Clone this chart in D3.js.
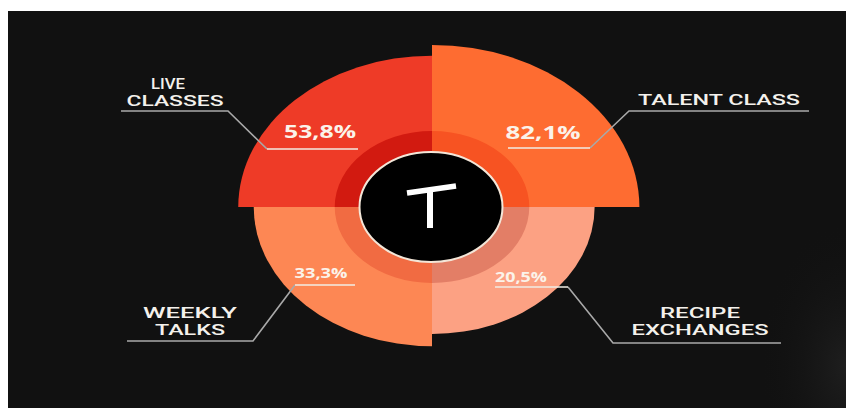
<!DOCTYPE html>
<html><head><meta charset="utf-8">
<script src="https://cdn.jsdelivr.net/npm/d3@7/dist/d3.min.js"></script>
<style>html,body{margin:0;padding:0;background:#fff;}svg{display:block;}</style>
</head><body>
<svg id="chart" width="846" height="408"></svg>
<script>
// ---- data ----
const categories = ["TALENT CLASS", "RECIPE EXCHANGES", "WEEKLY TALKS", "LIVE CLASSES"];
const values = [82.1, 20.5, 33.3, 53.8];
const valueLabels = ["82,1%", "20,5%", "33,3%", "53,8%"];
const labelLines = [["TALENT CLASS"], ["RECIPE", "EXCHANGES"], ["WEEKLY", "TALKS"], ["LIVE", "CLASSES"]];
const colors = ["#fe6c31", "#fca183", "#fd8754", "#ee3b27"];
const ringColors = ["#f75322", "#e37e66", "#f16b42", "#d21a10"];

// ---- layout ----
const W = 846, H = 408;
const cx = 432, cy = 207, sx = 1.28;
const svg = d3.select("#chart");

const defs = svg.append("defs");
const g1 = defs.append("radialGradient").attr("id", "glow")
  .attr("cx", 1.0).attr("cy", 0.8).attr("r", 0.7);
g1.append("stop").attr("offset", 0).attr("stop-color", "#2c2c2c").attr("stop-opacity", 0.5);
g1.append("stop").attr("offset", 1).attr("stop-color", "#111").attr("stop-opacity", 0);

svg.append("rect").attr("x", 8).attr("y", 11).attr("width", W - 8).attr("height", H - 11).attr("fill", "#111111");
svg.append("rect").attr("x", 720).attr("y", 200).attr("width", W - 720).attr("height", H - 200).attr("fill", "url(#glow)");

const rScale = d3.scaleLog().domain([1, 100]).range([50.9, 167]);
const angle = d3.scaleBand().domain(categories).range([0, 2 * Math.PI]).padding(0);

const chart = svg.append("g").attr("transform", `translate(${cx},${cy}) scale(${sx},1)`);

const arc = d3.arc().innerRadius(0).outerRadius(d => rScale(d.v))
  .startAngle(d => angle(d.c)).endAngle(d => angle(d.c) + angle.bandwidth());
const rows = categories.map((c, i) => ({c, v: values[i], i}));

chart.selectAll("path.slice").data(rows).join("path").attr("class", "slice")
  .attr("d", arc).attr("fill", d => colors[d.i]);

const ringArc = d3.arc().innerRadius(50).outerRadius(76)
  .startAngle(d => angle(d.c)).endAngle(d => angle(d.c) + angle.bandwidth());
chart.selectAll("path.ring").data(rows).join("path").attr("class", "ring")
  .attr("d", ringArc).attr("fill", d => ringColors[d.i]);

// center disc
svg.append("ellipse").attr("cx", cx - 1).attr("cy", cy).attr("rx", 71.5).attr("ry", 55)
  .attr("fill", "#000").attr("stroke", "#f3e6d8").attr("stroke-width", 2);
// logo
const logo = svg.append("g").attr("transform", `translate(${cx},${cy})`)
  .attr("stroke", "#fff").attr("fill", "none");
logo.append("path").attr("d", "M-25,-14 L24,-21").attr("stroke-width", 5.5);
logo.append("path").attr("d", "M-2,-15 L-2,21").attr("stroke-width", 6);

// ---- annotations (offsets from center, per category) ----
const annot = [
  {line: [[377,-96],[197,-96],[158,-59],[76,-59]], pct: [111, -68], pctSize: 17.5, pctLen: 75,
   text: [[287, -102.5, 162]]},
  {line: [[349,136],[181,136],[136,80],[63,80]], pct: [89, 75], pctSize: 13.5, pctLen: 52,
   text: [[268, 111, 80], [268, 127.5, 137]]},
  {line: [[-305,134],[-179,134],[-137,78],[-77,78]], pct: [-111, 71], pctSize: 13.5, pctLen: 53,
   text: [[-242, 111, 94], [-242, 127.5, 70]]},
  {line: [[-311,-96],[-204,-96],[-165,-58],[-74,-58]], pct: [-112, -69], pctSize: 17.5, pctLen: 72,
   text: [[-264, -118, 34], [-257, -101.5, 97]]}
];

const ann = svg.append("g").attr("transform", `translate(${cx},${cy})`);
annot.forEach((a, i) => {
  const pts = a.line;
  ann.append("path").attr("d", d3.line()(pts.slice(0, 3)))
    .attr("fill", "none").attr("stroke", "#a9a9a9").attr("stroke-width", 1.6);
  ann.append("path").attr("d", d3.line()(pts.slice(2)))
    .attr("fill", "none").attr("stroke", "#f1ece4").attr("stroke-width", 1.6);
  ann.append("text").text(valueLabels[i])
    .attr("x", a.pct[0]).attr("y", a.pct[1]).attr("text-anchor", "middle")
    .attr("font-family", "'Open Sans', sans-serif").attr("font-weight", 700)
    .attr("font-size", a.pctSize).attr("fill", "#fbf3ea")
    .attr("textLength", a.pctLen).attr("lengthAdjust", "spacingAndGlyphs");
  labelLines[i].forEach((t, j) => {
    const [x, y, len] = a.text[j];
    ann.append("text").text(t)
      .attr("x", x).attr("y", y).attr("text-anchor", "middle")
      .attr("font-family", "Roboto, sans-serif").attr("font-weight", 500)
      .attr("font-size", 14).attr("fill", "#f4f1ec")
      .attr("textLength", len).attr("lengthAdjust", "spacingAndGlyphs");
  });
});
</script>
</body></html>
